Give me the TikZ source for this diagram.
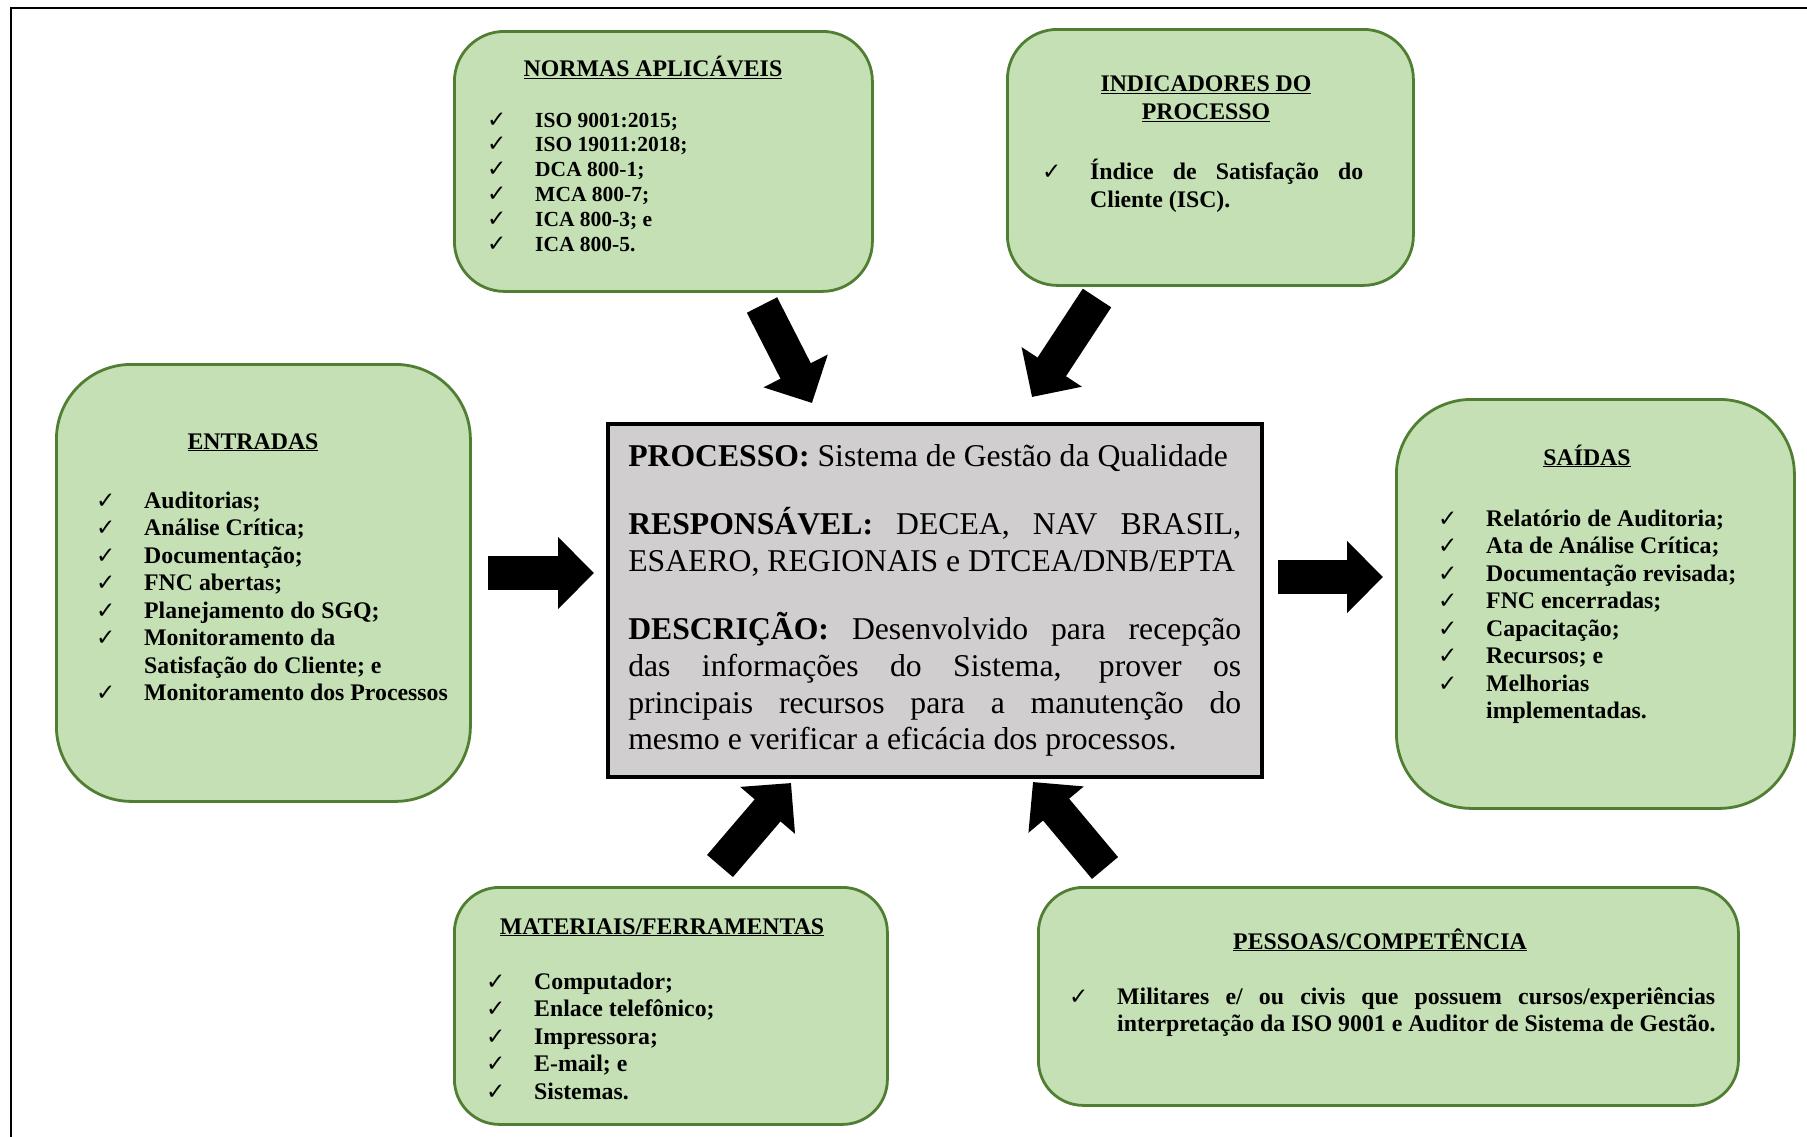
\documentclass[tikz,border=0pt]{standalone}
\usepackage{fontspec}
\setmainfont{Liberation Serif}
\newfontfamily\symfont{DejaVu Sans}
\usetikzlibrary{arrows.meta}
\definecolor{boxFill}{HTML}{C5E0B4}
\definecolor{boxEdge}{HTML}{507E32}
\definecolor{procFill}{HTML}{D0CECE}
\newcommand{\chk}{{\symfont\fontsize{23}{23}\selectfont ✓}}
\begin{document}
\begin{tikzpicture}
[x=1pt, y=-1pt,
 boxDecorate/.style={draw=boxEdge, fill=boxFill, line width=2.8pt, anchor=north west, inner sep=0pt},
 procDecorate/.style={draw, line width=3.5pt, fill=procFill, anchor=north west, text width=613pt,
   inner xsep=20.5pt, inner ysep=20pt, align=justify, minimum height=353pt,
   font=\fontsize{31.7}{36.6}\selectfont},
 titleDecorate/.style={anchor=base, inner sep=0pt, align=center, font=\fontsize{23.8}{27.5}\selectfont\bfseries},
 listDecorate/.style={anchor=north west, inner sep=0pt, font=\fontsize{23.8}{27.5}\selectfont\bfseries},
 arrowDecorate/.style={-{Triangle[length=36pt,width=70pt]}, line width=34pt}]
\useasboundingbox (0,0) rectangle (1807,1136);
%% frame
\draw[line width=2.5pt] (11,1140) -- (11,8) -- (1812,8);
%% boxes
\foreach \nodename/\x/\y/\w/\h/\r in {normas/453/30/418pt/260pt/50pt, indic/1006/28/406pt/256pt/50pt,
  entradas/55/363/414pt/437pt/75pt, saidas/1395/398/398pt/409pt/75pt,
  materiais/453/886/433pt/237pt/45pt, pessoas/1037/886/700pt/218pt/45pt} {
  \node (\nodename) at (\x,\y) [boxDecorate, minimum width=\w, minimum height=\h, rounded corners=\r] {};
}
\node (proc) at (606,422) [procDecorate] {\textbf{PROCESSO:} Sistema de Gestão da Qualidade\\[32pt]
  \textbf{RESPONSÁVEL:} DECEA, NAV BRASIL,\linebreak ESAERO, REGIONAIS e DTCEA/DNB/EPTA\\[32pt]
  \textbf{DESCRIÇÃO:} Desenvolvido para recepção\linebreak das informações do Sistema, prover os\linebreak
  principais recursos para a manutenção do\linebreak mesmo e verificar a eficácia dos processos.};
%% titles
\node (normasT) at (653,76) [titleDecorate] {\underline{NORMAS APLICÁVEIS}};
\node (indicT) at (1206,76) [titleDecorate, anchor=north] {\underline{INDICADORES DO}\\\underline{PROCESSO}};
\node (entradasT) at (253,449) [titleDecorate] {\underline{ENTRADAS}};
\node (saidasT) at (1587,465) [titleDecorate] {\underline{SAÍDAS}};
\node (materiaisT) at (662,934) [titleDecorate] {\underline{MATERIAIS/FERRAMENTAS}};
\node (pessoasT) at (1380,949) [titleDecorate] {\underline{PESSOAS/COMPETÊNCIA}};
%% lists
\node (normasL) at (487,109.6) [listDecorate, font=\fontsize{21.5}{24.8}\selectfont\bfseries] {%
  \begin{tabular}{@{}p{48pt}@{}l@{}}
  \chk & ISO 9001:2015;\\
  \chk & ISO 19011:2018;\\
  \chk & DCA 800-1;\\
  \chk & MCA 800-7;\\
  \chk & ICA 800-3; e\\
  \chk & ICA 800-5.
  \end{tabular}};
\node (indicL) at (1042,159) [listDecorate] {%
  \begin{tabular}{@{}p{48pt}@{}p{273pt}@{}}
  \chk & Índice de Satisfação do\linebreak Cliente (ISC).
  \end{tabular}};
\node (entradasL) at (96,489) [listDecorate] {%
  \begin{tabular}{@{}p{48pt}@{}l@{}}
  \chk & Auditorias;\\
  \chk & Análise Crítica;\\
  \chk & Documentação;\\
  \chk & FNC abertas;\\
  \chk & Planejamento do SGQ;\\
  \chk & Monitoramento da\\
       & Satisfação do Cliente; e\\
  \chk & Monitoramento dos Processos
  \end{tabular}};
\node (saidasL) at (1438,507) [listDecorate] {%
  \begin{tabular}{@{}p{48pt}@{}l@{}}
  \chk & Relatório de Auditoria;\\
  \chk & Ata de Análise Crítica;\\
  \chk & Documentação revisada;\\
  \chk & FNC encerradas;\\
  \chk & Capacitação;\\
  \chk & Recursos; e\\
  \chk & Melhorias\\
       & implementadas.
  \end{tabular}};
\node (materiaisL) at (486,970) [listDecorate] {%
  \begin{tabular}{@{}p{48pt}@{}l@{}}
  \chk & Computador;\\
  \chk & Enlace telefônico;\\
  \chk & Impressora;\\
  \chk & E-mail; e\\
  \chk & Sistemas.
  \end{tabular}};
\node (pessoasL) at (1069,985) [listDecorate] {%
  \begin{tabular}{@{}p{48pt}@{}p{598pt}@{}}
  \chk & Militares e/ ou civis que possuem cursos/experiências\linebreak
         \mbox{interpretação da ISO 9001 e Auditor de Sistema de Gestão.}
  \end{tabular}};
%% arrows
\foreach \name/\x/\y in {n1/762/305, n2/812/403, i1/1097/298, i2/1032/397,
  e1/488/573, e2/594/573, s1/1278/577, s2/1383/577,
  m1/720/866, m2/791/783, p1/1105/868, p2/1033/782} {
  \coordinate (\name) at (\x,\y);
}
\path
\foreach \startnode/\endnode in {n1/n2, i1/i2, e1/e2, s1/s2, m1/m2, p1/p2} {
  (\startnode) edge[arrowDecorate] (\endnode)
};
\end{tikzpicture}
\end{document}
